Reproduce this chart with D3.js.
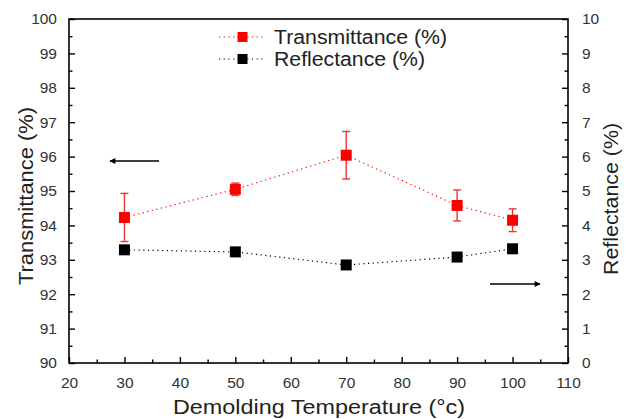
<!DOCTYPE html>
<html><head><meta charset="utf-8">
<script src="https://cdn.jsdelivr.net/npm/d3@7"></script>
<style>body{margin:0;background:#fff}svg{display:block;font-family:"Liberation Sans",Arial,sans-serif}</style>
</head><body><svg id="c" width="629" height="419"></svg>
<script>
const temps = [30, 50, 70, 90, 100];
const transmittance = [94.23, 95.05, 96.04, 94.58, 94.15];
const transErr = [0.70, 0.18, 0.69, 0.45, 0.33];
const reflectance = [3.29, 3.23, 2.85, 3.08, 3.32];
const xTicks = [20, 30, 40, 50, 60, 70, 80, 90, 100, 110];
const yLeftTicks = [90, 91, 92, 93, 94, 95, 96, 97, 98, 99, 100];
const yRightTicks = [0, 1, 2, 3, 4, 5, 6, 7, 8, 9, 10];

const L = 69, R = 568, T = 19, B = 363;
const svg = d3.select("#c");
const x = d3.scaleLinear().domain([20, 110]).range([L, R]);
const yL = d3.scaleLinear().domain([90, 100]).range([B, T]);
const yR = d3.scaleLinear().domain([0, 10]).range([B, T]);

const labelColor = "#333";
const tickFont = 15.5;
// frame
svg.append("rect").attr("x", L).attr("y", T).attr("width", R - L).attr("height", B - T)
  .attr("fill", "none").attr("stroke", "#000").attr("stroke-width", 1.6);

// bottom axis
const gx = svg.append("g").attr("transform", `translate(0,${B})`)
  .call(d3.axisBottom(x).tickValues(xTicks).tickSize(-6).tickPadding(14).tickFormat(d3.format("d")));
gx.select(".domain").remove();
gx.selectAll(".tick line").attr("stroke", "#000").attr("stroke-width", 1.4);
gx.selectAll("text").attr("font-size", tickFont).attr("fill", labelColor);
const gxm = svg.append("g").attr("transform", `translate(0,${B})`)
  .call(d3.axisBottom(x).tickValues(d3.range(25, 110, 10)).tickSize(-3.5).tickFormat(""));
gxm.select(".domain").remove();
gxm.selectAll(".tick line").attr("stroke", "#000").attr("stroke-width", 1.4);

// left axis
const gl = svg.append("g").attr("transform", `translate(${L},0)`)
  .call(d3.axisLeft(yL).tickValues(yLeftTicks).tickSize(-6).tickPadding(12).tickFormat(d3.format("d")));
gl.select(".domain").remove();
gl.selectAll(".tick line").attr("stroke", "#000").attr("stroke-width", 1.4);
gl.selectAll("text").attr("font-size", tickFont).attr("fill", labelColor);
const glm = svg.append("g").attr("transform", `translate(${L},0)`)
  .call(d3.axisLeft(yL).tickValues(d3.range(90.5, 100, 1)).tickSize(-3.5).tickFormat(""));
glm.select(".domain").remove();
glm.selectAll(".tick line").attr("stroke", "#000").attr("stroke-width", 1.4);

// right axis
const gr = svg.append("g").attr("transform", `translate(${R},0)`)
  .call(d3.axisRight(yR).tickValues(yRightTicks).tickSize(-6).tickPadding(14).tickFormat(d3.format("d")));
gr.select(".domain").remove();
gr.selectAll(".tick line").attr("stroke", "#000").attr("stroke-width", 1.4);
gr.selectAll("text").attr("font-size", tickFont).attr("fill", labelColor);
const grm = svg.append("g").attr("transform", `translate(${R},0)`)
  .call(d3.axisRight(yR).tickValues(d3.range(0.5, 10, 1)).tickSize(-3.5).tickFormat(""));
grm.select(".domain").remove();
grm.selectAll(".tick line").attr("stroke", "#000").attr("stroke-width", 1.4);

// axis titles
svg.append("text").attr("x", 319).attr("y", 414).attr("text-anchor", "middle")
  .attr("font-size", 20).attr("fill", "#222")
  .attr("textLength", 292).attr("lengthAdjust", "spacingAndGlyphs")
  .text("Demolding Temperature (\u00B0c)");
svg.append("text").attr("transform", `translate(33,196) rotate(-90)`).attr("text-anchor", "middle")
  .attr("font-size", 20).attr("fill", "#222")
  .attr("textLength", 178).attr("lengthAdjust", "spacingAndGlyphs")
  .text("Transmittance (%)");
svg.append("text").attr("transform", `translate(618,199) rotate(-90)`).attr("text-anchor", "middle")
  .attr("font-size", 20).attr("fill", "#222")
  .attr("textLength", 152).attr("lengthAdjust", "spacingAndGlyphs")
  .text("Reflectance (%)");

// lines
const tData = temps.map((t, i) => ({t, v: transmittance[i], e: transErr[i]}));
const rData = temps.map((t, i) => ({t, v: reflectance[i]}));
svg.append("path").datum(tData).attr("fill", "none").attr("stroke", "#f00").attr("stroke-width", 1.2)
  .attr("stroke-dasharray", "1.2,3.5")
  .attr("d", d3.line().x(d => x(d.t)).y(d => yL(d.v)));
svg.append("path").datum(rData).attr("fill", "none").attr("stroke", "#000").attr("stroke-width", 1.2)
  .attr("stroke-dasharray", "1.2,3.5")
  .attr("d", d3.line().x(d => x(d.t)).y(d => yR(d.v)));

// error bars
const eb = svg.append("g").attr("stroke", "#e8383a").attr("stroke-width", 1.4);
tData.forEach(d => {
  const cx = x(d.t), y1 = yL(d.v + d.e), y2 = yL(d.v - d.e);
  eb.append("line").attr("x1", cx).attr("x2", cx).attr("y1", y1).attr("y2", y2);
  eb.append("line").attr("x1", cx - 4).attr("x2", cx + 4).attr("y1", y1).attr("y2", y1);
  eb.append("line").attr("x1", cx - 4).attr("x2", cx + 4).attr("y1", y2).attr("y2", y2);
});

// markers
const ms = 11;
svg.append("g").selectAll("rect").data(tData).join("rect")
  .attr("x", d => x(d.t) - ms / 2).attr("y", d => yL(d.v) - ms / 2)
  .attr("width", ms).attr("height", ms).attr("fill", "#f00");
svg.append("g").selectAll("rect").data(rData).join("rect")
  .attr("x", d => x(d.t) - ms / 2).attr("y", d => yR(d.v) - ms / 2)
  .attr("width", ms).attr("height", ms).attr("fill", "#000");

// legend
const legend = [{name: "Transmittance (%)", color: "#f00", y: 37, len: 173}, {name: "Reflectance (%)", color: "#000", y: 59, len: 151}];
legend.forEach(l => {
  svg.append("line").attr("x1", 219).attr("x2", 266).attr("y1", l.y).attr("y2", l.y)
    .attr("stroke", l.color).attr("stroke-width", 1.2).attr("stroke-dasharray", "1.2,3.5");
  svg.append("rect").attr("x", 242.5 - 5).attr("y", l.y - 5).attr("width", 10).attr("height", 10)
    .attr("fill", l.color);
  svg.append("text").attr("x", 274).attr("y", l.y + 7).attr("font-size", 19.5).attr("fill", "#222")
    .attr("textLength", l.len).attr("lengthAdjust", "spacingAndGlyphs").text(l.name);
});

// arrows
const defs = svg.append("defs");
defs.append("marker").attr("id", "ah").attr("viewBox", "0 0 10 10").attr("refX", 9).attr("refY", 5)
  .attr("markerWidth", 8).attr("markerHeight", 6).attr("markerUnits", "userSpaceOnUse").attr("orient", "auto")
  .append("path").attr("d", "M0,0L10,5L0,10z").attr("fill", "#000");
svg.append("line").attr("x1", 159).attr("x2", 110).attr("y1", 161).attr("y2", 161)
  .attr("stroke", "#000").attr("stroke-width", 1.3).attr("marker-end", "url(#ah)");
svg.append("line").attr("x1", 490).attr("x2", 540).attr("y1", 284).attr("y2", 284)
  .attr("stroke", "#000").attr("stroke-width", 1.3).attr("marker-end", "url(#ah)");
</script></body></html>
